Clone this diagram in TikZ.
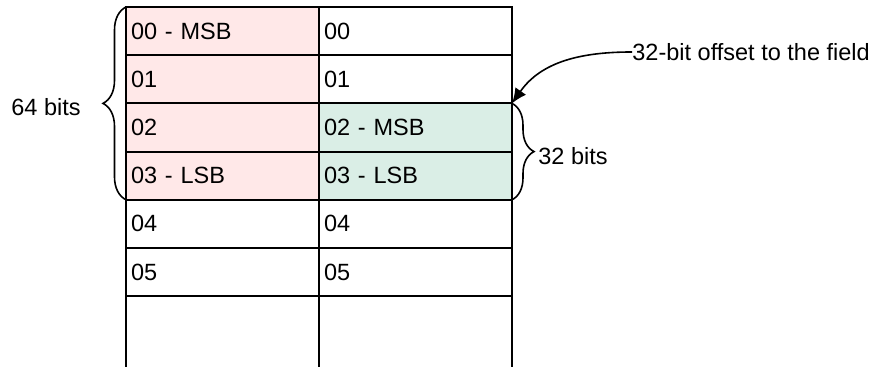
\documentclass[tikz,border=0pt]{standalone}
\usepackage{fontspec}
\setmainfont{Liberation Sans}
\usetikzlibrary{positioning, decorations.pathreplacing, arrows.meta}
\definecolor{pinkfill}{HTML}{FFE8E8}
\definecolor{greenfill}{HTML}{DAEEE6}

\begin{document}
\begin{tikzpicture}[node distance=0pt,
        every node/.style={font=\fontsize{11.75}{14}\selectfont},
        cell/.style={draw, line width=1pt, outer sep=0pt, inner xsep=2.5pt, text width=91.5pt, align=left, minimum height=24.1pt},
        hi/.style={cell, fill=pinkfill},
        lo/.style={cell, fill=greenfill},
        tag/.style={inner sep=0pt},
        bracket/.style={decorate, decoration={brace, amplitude=#1}, line width=0.8pt}]
        \useasboundingbox (0,0) rectangle (439pt,183.5pt);

        % left column
        \node[hi, anchor=north west] (L0) at (63pt,180pt) {00 - MSB};
        \node[hi, below=of L0] (L1) {01};
        \node[hi, below=of L1] (L2) {02};
        \node[hi, below=of L2] (L3) {03 - LSB};
        \node[cell, below=of L3] (L4) {04};
        \node[cell, below=of L4] (L5) {05};
        \node[cell, below=of L5, minimum height=40pt] (L6) {};

        % right column
        \node[cell, right=of L0] (R0) {00};
        \node[cell, right=of L1] (R1) {01};
        \node[lo, right=of L2] (R2) {02 - MSB};
        \node[lo, right=of L3] (R3) {03 - LSB};
        \node[cell, right=of L4] (R4) {04};
        \node[cell, right=of L5] (R5) {05};
        \node[cell, right=of L6, minimum height=40pt] (R6) {};

        % braces
        \draw[bracket=11.5pt] (L3.south west) -- (L0.north west);
        \coordinate (tip64) at ([xshift=-11.5pt]L1.south west);
        \node[tag, left=11pt of tip64, yshift=-2pt] (w64) {64 bits};

        \draw[bracket=11pt] (R2.north east) -- (R3.south east);
        \coordinate (tip32) at ([xshift=11pt]R2.south east);
        \node[tag, right=2pt of tip32, yshift=-2.5pt] (w32) {32 bits};

        \node[tag, anchor=west] (offset) at (316pt,157.5pt) {32-bit offset to the field};
        \draw[-{Latex[length=7.5pt,width=6.5pt]}, line width=0.8pt] (offset.west) to[out=180, in=55] (R1.south east);
    \end{tikzpicture}
\end{document}
